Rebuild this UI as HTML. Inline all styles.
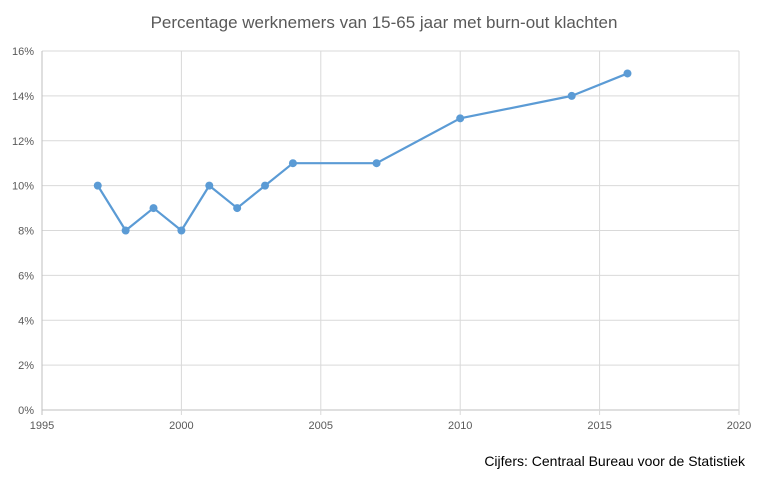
<!DOCTYPE html>
<html><head><meta charset="utf-8"><style>
body{margin:0;background:#fff;width:768px;height:480px;overflow:hidden;font-family:"Liberation Sans",sans-serif}
</style></head><body>
<svg id="chart" width="768" height="480" xmlns="http://www.w3.org/2000/svg">
<text x="384" y="28" text-anchor="middle" font-size="17" fill="#595959" font-family="Liberation Sans, sans-serif">Percentage werknemers van 15-65 jaar met burn-out klachten</text>
<g id="grid"></g><g id="axes"></g><g id="series"></g>
<text x="745" y="466" text-anchor="end" font-size="14" fill="#000" font-family="Liberation Sans, sans-serif">Cijfers: Centraal Bureau voor de Statistiek</text>
</svg>
<script>
const years=[1997,1998,1999,2000,2001,2002,2003,2004,2007,2010,2014,2016];
const values=[10,8,9,8,10,9,10,11,11,13,14,15];
const yTicks=[0,2,4,6,8,10,12,14,16];
const xTicks=[1995,2000,2005,2010,2015,2020];
const NS="http://www.w3.org/2000/svg";
const X0=42,X1=739,Y0=410,Y1=51;
const xs=v=>X0+(v-1995)/(2020-1995)*(X1-X0);
const ys=v=>Y0-v/16*(Y0-Y1);
function mk(t,a,p){const e=document.createElementNS(NS,t);for(const k in a)e.setAttribute(k,a[k]);p.appendChild(e);return e;}
const grid=document.getElementById('grid'),axes=document.getElementById('axes'),ser=document.getElementById('series');
yTicks.forEach(v=>{
 const l=mk('line',{x1:X0,x2:X1,y1:ys(v),y2:ys(v),stroke:v===0?'#bfbfbf':'#d9d9d9','stroke-width':1},grid);
 
 
 const t=mk('text',{x:X0-8,y:ys(v)+4,'text-anchor':'end','font-size':11,fill:'#595959'},axes);
 t.textContent=v+'%';
 
 
});
xTicks.forEach(v=>{
 const l=mk('line',{x1:xs(v),x2:xs(v),y1:Y1,y2:Y0+5,stroke:v===1995?'#bfbfbf':'#d9d9d9','stroke-width':1},grid);
 
 
 const t=mk('text',{x:xs(v),y:Y0+19,'text-anchor':'middle','font-size':11,fill:'#595959'},axes);
 t.textContent=v;
 
 
});
const pl=mk('polyline',{points:years.map((y,i)=>xs(y)+','+ys(values[i])).join(' '),fill:'none',stroke:'#5b9bd5','stroke-width':2.2,'stroke-linejoin':'round'},ser);


years.forEach((y,i)=>{
 const c=mk('circle',{cx:xs(y),cy:ys(values[i]),r:4,fill:'#5b9bd5'},ser);
 
 
});
</script>
</body></html>
